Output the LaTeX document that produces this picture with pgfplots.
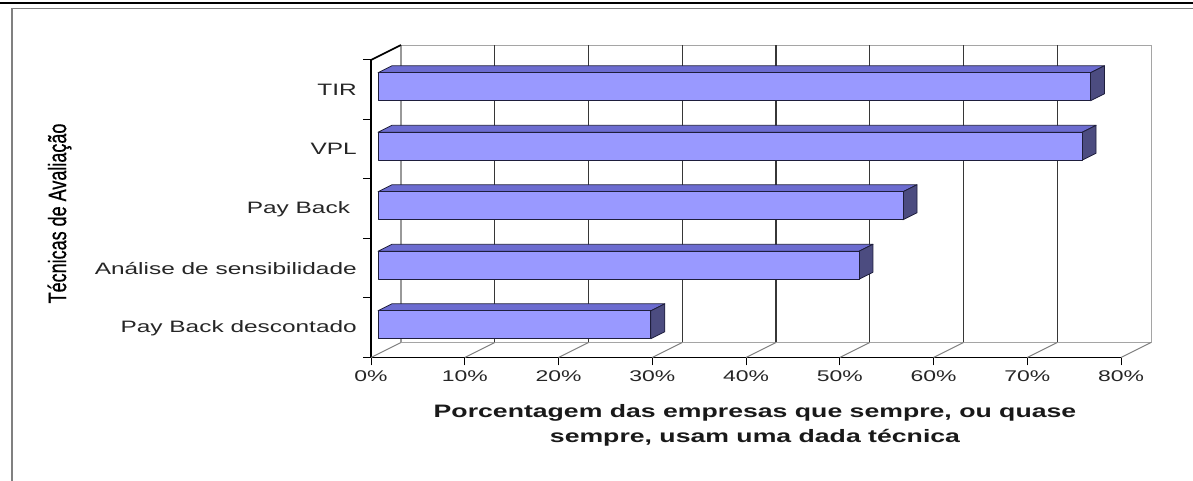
\documentclass[border=0pt]{standalone}
\usepackage{pgfplots}
\pgfplotsset{compat=1.18}
\usepackage{graphicx}
\usepackage{fontspec}
\setmainfont{Liberation Sans}
\newfontfamily\ytfont[FakeBold=0.8]{Liberation Sans}
\definecolor{barfront}{RGB}{153,153,255}
\definecolor{bartop}{RGB}{108,108,208}
\definecolor{barside}{RGB}{76,76,128}
\definecolor{baredge}{RGB}{30,30,60}
\definecolor{wallgrey}{RGB}{165,165,165}
\definecolor{gridc}{RGB}{55,55,55}
\newcommand{\sx}[1]{\scalebox{1.48}[1]{#1}}
\newcommand{\threedbar}[2]{%
 \pgfmathsetmacro{\xa}{0.747}%
 \pgfmathsetmacro{\xb}{#2+0.747}%
 \pgfmathsetmacro{\ya}{#1+0.05-0.235}%
 \pgfmathsetmacro{\yb}{#1+0.05+0.235}%
 \pgfmathsetmacro{\xad}{\xa+1.493}%
 \pgfmathsetmacro{\xbd}{\xb+1.493}%
 \pgfmathsetmacro{\yad}{\ya+0.1176}%
 \pgfmathsetmacro{\ybd}{\yb+0.1176}%
 \edef\tmp{%
 \noexpand\addplot[fill=bartop, draw=baredge, line width=0.8pt, line join=round] coordinates {(\xa,\yb) (\xb,\yb) (\xbd,\ybd) (\xad,\ybd)} -- cycle;
 \noexpand\addplot[fill=barside, draw=baredge, line width=0.8pt, line join=round] coordinates {(\xb,\ya) (\xbd,\yad) (\xbd,\ybd) (\xb,\yb)} -- cycle;
 \noexpand\addplot[fill=barfront, draw=baredge, line width=0.8pt, line join=round] coordinates {(\xa,\ya) (\xb,\ya) (\xb,\yb) (\xa,\yb)} -- cycle;
 }\tmp
}
\begin{document}
\begin{tikzpicture}[x=1pt,y=1pt]
\useasboundingbox (0,0) rectangle (1193,481);
\fill[white] (0,0) rectangle (1193,481);
\begin{axis}[
  at={(371pt,123.5pt)}, anchor=origin,
  scale only axis, width=750pt, height=297.5pt,
  xmin=0, xmax=80, ymin=0, ymax=5,
  clip=false,
  axis x line*=bottom, axis y line*=left,
  axis line style={line width=1.6pt, black},
  tick align=outside, major tick length=8pt,
  tick style={black, line width=1pt},
  xtick={0,10,...,80},
  xticklabels={{\sx{0\%}},{\sx{10\%}},{\sx{20\%}},{\sx{30\%}},{\sx{40\%}},{\sx{50\%}},{\sx{60\%}},{\sx{70\%}},{\sx{80\%}}},
  xticklabel style={font=\fontsize{15.5}{17}\selectfont, text=black!85, yshift=-2pt},
  ytick={0,1,2,3,4,5},
  yticklabels={},
]
% back wall
\draw[wallgrey, line width=0.8pt] ([shift={(30pt,15pt)}]axis cs:0,0) rectangle ([shift={(30pt,15pt)}]axis cs:80,5);
\pgfplotsinvokeforeach{10,20,...,70}{
  \draw[gridc, line width=1.2pt] ([shift={(30pt,15pt)}]axis cs:#1,0) -- ++(0,297.5pt);
}
\pgfplotsinvokeforeach{0,10,...,80}{
  \draw[gray, line width=1pt] (axis cs:#1,0) -- ++(30pt,15pt);
}
\draw[gray!80, line width=2.6pt] ([shift={(30pt,15pt)}]axis cs:0,0) -- ++(0,297.5pt);
\draw[black, line width=1.6pt] (axis cs:0,5) -- ++(30pt,15pt);
% bars (value at category centre)
\threedbar{4.5}{76}
\threedbar{3.5}{75.1}
\threedbar{2.5}{56}
\threedbar{1.5}{51.3}
\threedbar{0.5}{29.1}
% category labels
\begin{scope}[every node/.style={anchor=east, inner sep=0pt, xshift=-14pt, font=\fontsize{16.5}{18}\selectfont, text=black!85}]
\node at (axis cs:0,4.5) {\sx{TIR}};
\node at (axis cs:0,3.5) {\sx{VPL}};
\node at (axis cs:0,2.5) {\sx{Pay Back\ }};
\node at (axis cs:0,1.5) {\sx{Análise de sensibilidade}};
\node at (axis cs:0,0.5) {\sx{Pay Back descontado}};
\end{scope}
\end{axis}
% axis titles
\node[align=center, font=\bfseries\fontsize{18}{25}\selectfont, text=black!90] at (755,55.5) {\sx{Porcentagem das empresas que sempre, ou quase}\\ \sx{sempre, usam uma dada técnica}};
\node[text=black] at (59.5,267.5) {\rotatebox{90}{\scalebox{1}[1.4]{\ytfont\fontsize{18}{20}\selectfont Técnicas de Avaliação}}};
% outer frame
\draw[black, line width=1.2pt] (0,478) -- (1193,478);
\draw[gray, line width=1.6pt] (11.7,0) -- (11.7,472.5) -- (1193,472.5);
\end{tikzpicture}
\end{document}
